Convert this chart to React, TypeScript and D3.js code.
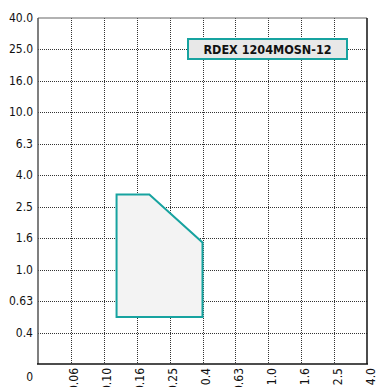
import React from 'react';
import * as d3 from 'd3';

// axis categories (equally spaced on the chart)
const xCats = ['0', '0.06', '0.10', '0.16', '0.25', '0.4', '0.63', '1.0', '1.6', '2.5', '4.0'];
const yCats = ['0', '0.4', '0.63', '1.0', '1.6', '2.5', '4.0', '6.3', '10.0', '16.0', '25.0', '40.0'];

// working area of the insert: feed f (x) vs depth ap (y)
const areaF = [0.12, 0.12, 0.19, 0.4, 0.4];
const areaAp = [0.5, 3.0, 3.0, 1.5, 0.5];

const legendLabel = 'RDEX 1204MOSN-12';

const W = 377, H = 387;
const margin = { top: 18, right: 10, bottom: 23, left: 38 };
const teal = '#17a3a0';
const font = '"DejaVu Sans Condensed", "Liberation Sans Narrow", sans-serif';

export default function App() {
    const x = d3.scalePoint<string>().domain(xCats).range([margin.left, W - margin.right]);
    const y = d3.scalePoint<string>().domain(yCats).range([H - margin.bottom, margin.top]);

    // piecewise log scales through the category positions (skip "0")
    const xv = d3.scaleLog()
        .domain(xCats.slice(1).map(Number))
        .range(xCats.slice(1).map(c => x(c) as number));
    const yv = d3.scaleLog()
        .domain(yCats.slice(1).map(Number))
        .range(yCats.slice(1).map(c => y(c) as number));

    const pts = areaF.map((f, i) => [xv(f), yv(areaAp[i])] as [number, number]);
    const area = d3.line().curve(d3.curveLinearClosed)(pts) || '';

    const x0 = margin.left, x1 = W - margin.right;
    const y0 = H - margin.bottom, y1 = margin.top;

    return (
        <svg width={W} height={H} style={{ position: 'absolute', left: 0, top: 0, background: '#fff' }}>
            {/* grid */}
            <g stroke="#333" strokeWidth={1} strokeDasharray="1,1">
                {yCats.slice(1, -1).map(c => (
                    <line key={'gy' + c} x1={x0} x2={x1} y1={Math.round(y(c) as number) + 0.5} y2={Math.round(y(c) as number) + 0.5} />
                ))}
                {xCats.slice(1, -1).map(c => (
                    <line key={'gx' + c} x1={Math.round(x(c) as number) + 0.5} x2={Math.round(x(c) as number) + 0.5} y1={y1} y2={y0} />
                ))}
            </g>

            {/* frame */}
            <line x1={x0} x2={x1} y1={y1} y2={y1} stroke="#666" strokeWidth={1.2} />
            <line x1={x0} x2={x0} y1={y1} y2={y0} stroke="#555" strokeWidth={1.5} />
            <line x1={x1} x2={x1} y1={y1} y2={y0} stroke="#111" strokeWidth={1.5} />
            <line x1={x0 - 1} x2={x1 + 1} y1={y0} y2={y0} stroke="#111" strokeWidth={1.5} />

            {/* working area */}
            <path d={area} fill="#f3f3f3" stroke={teal} strokeWidth={2} />

            {/* legend */}
            <rect x={188} y={39} width={159} height={20} fill="#e8e8e8" stroke={teal} strokeWidth={2} />
            <text x={267.5} y={49.5} textAnchor="middle" dominantBaseline="central"
                fontFamily={font} fontWeight="bold" fontSize={12.5} fill="#111">{legendLabel}</text>

            {/* y labels */}
            <g fontFamily={font} fontSize={12} fill="#111" textAnchor="end">
                {yCats.slice(1).map(c => (
                    <text key={'ly' + c} x={33} y={y(c) as number} dominantBaseline="central">{c}</text>
                ))}
                <text x={33} y={y0 + 13} dominantBaseline="central">{yCats[0]}</text>
            </g>

            {/* x labels */}
            <g fontFamily={font} fontSize={12} fill="#111" textAnchor="end">
                {xCats.slice(1).map(c => {
                    const px = (x(c) as number) + 3.5;
                    const py = y0 + 4;
                    return (
                        <text key={'lx' + c} transform={`translate(${px},${py}) rotate(-90)`} dominantBaseline="central">{c}</text>
                    );
                })}
            </g>
        </svg>
    );
}
